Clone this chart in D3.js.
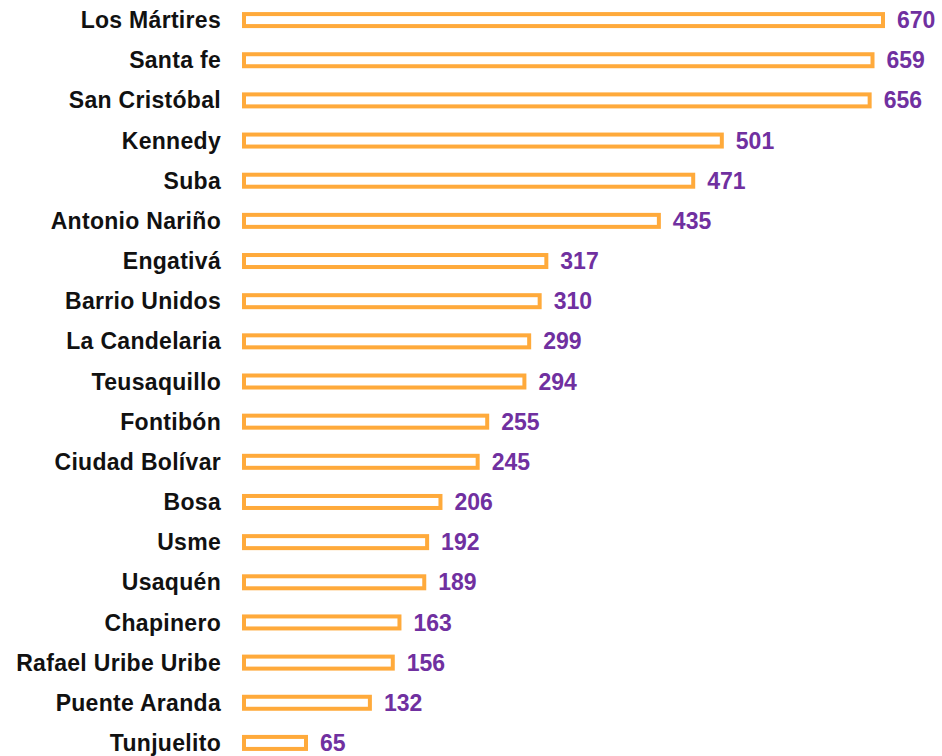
<!DOCTYPE html>
<html>
<head>
<meta charset="utf-8">
<script src="https://cdn.jsdelivr.net/npm/d3@7"></script>
<style>
  html, body { margin: 0; padding: 0; background: #fff; }
  svg { display: block; }
</style>
</head>
<body>
<div id="chart"></div>
<script>
// Localidades, ordered as in the chart (top to bottom)
const localidades = [
    "Los Mártires", "Santa fe", "San Cristóbal", "Kennedy", "Suba",
    "Antonio Nariño", "Engativá", "Barrio Unidos", "La Candelaria", "Teusaquillo",
    "Fontibón", "Ciudad Bolívar", "Bosa", "Usme", "Usaquén",
    "Chapinero", "Rafael Uribe Uribe", "Puente Aranda", "Tunjuelito"
];
const valores = [670, 659, 656, 501, 471, 435, 317, 310, 299, 294, 255, 245, 206, 192, 189, 163, 156, 132, 65];

const width = 942, height = 756;
const margin = { top: 0, right: 58, bottom: 0, left: 244 };
const barColor = "#FFAA3B";
const valueColor = "#7030A0";
const strokeW = 4;

const svg = d3.select("#chart").append("svg")
    .attr("width", width)
    .attr("height", height);

const x = d3.scaleLinear()
    .domain([0, 670])
    .range([margin.left, margin.left + 639]);

const y = d3.scaleBand()
    .domain(localidades)
    .range([0, 763])
    .paddingInner(0)
    .paddingOuter(0);

const rows = svg.append("g").selectAll("g")
    .data(localidades.map((d, i) => ({ name: d, value: valores[i] })))
    .join("g")
    .attr("transform", d => `translate(0,${y(d.name) + y.bandwidth() / 2})`);

// hollow bars: thick orange outline, white inside
rows.append("rect")
    .attr("x", x(0))
    .attr("y", -6)
    .attr("width", d => x(d.value) - x(0))
    .attr("height", 12)
    .attr("fill", "#fff")
    .attr("stroke", barColor)
    .attr("stroke-width", strokeW);

// category labels
rows.append("text")
    .attr("x", 221)
    .attr("dy", "0.35em")
    .attr("text-anchor", "end")
    .attr("font-family", "Arial, 'Liberation Sans', sans-serif")
    .attr("font-weight", "bold")
    .attr("font-size", 23)
    .attr("letter-spacing", "0.3px")
    .attr("fill", "#111")
    .text(d => d.name);

// value labels
rows.append("text")
    .attr("x", d => x(d.value) + 14)
    .attr("dy", "0.35em")
    .attr("font-family", "Arial, 'Liberation Sans', sans-serif")
    .attr("font-weight", "bold")
    .attr("font-size", 23)
    .attr("fill", valueColor)
    .text(d => d.value);
</script>
</body>
</html>
